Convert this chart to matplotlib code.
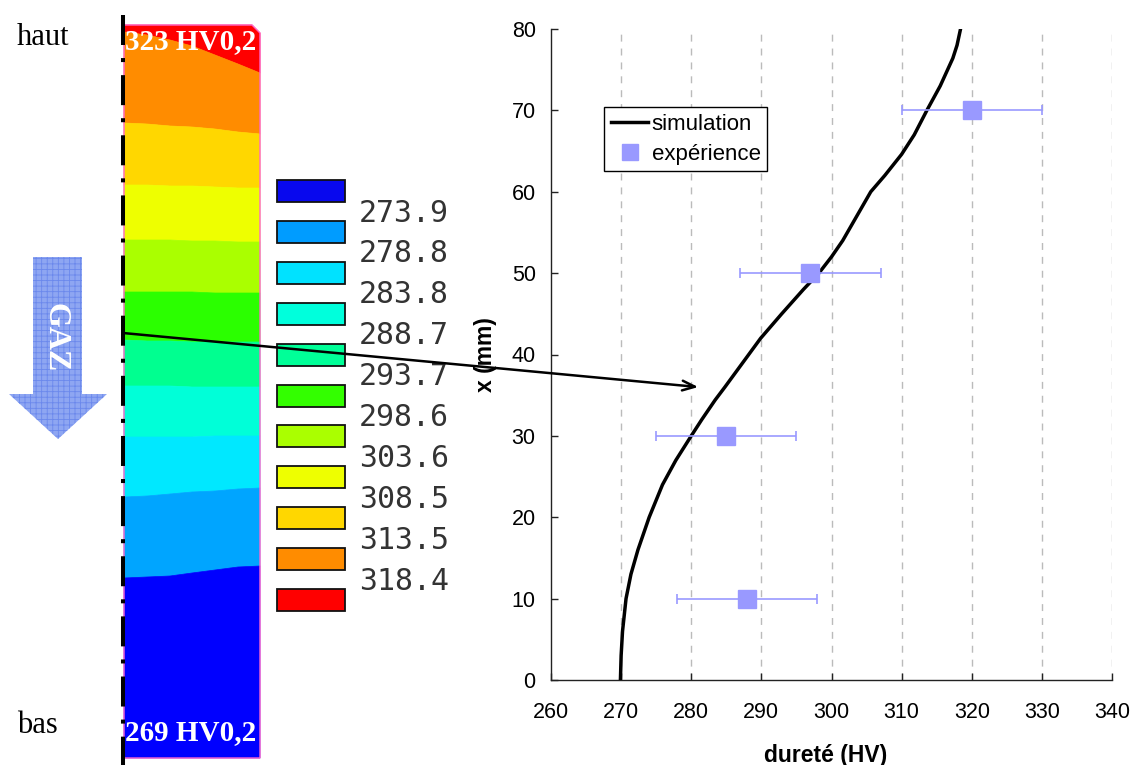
import matplotlib
matplotlib.use('Agg')
import matplotlib.pyplot as plt
from matplotlib.patches import Polygon
from matplotlib.lines import Line2D

plt.rcParams['lines.scale_dashes'] = False
plt.rcParams['hatch.linewidth'] = 0.6

# ---------------- data ----------------
sim_x_mm = [0, 3, 6, 10, 13, 16, 20, 24, 27, 30, 32, 34.4, 36, 38, 40, 42, 45, 48,
            50, 52, 54, 57, 60, 62, 64.6, 67, 70, 73, 76.4, 78, 80]
sim_hv = [269.9, 270.0, 270.2, 270.7, 271.4, 272.4, 274.0, 275.9, 277.8, 280.0,
          281.5, 283.4, 284.8, 286.5, 288.2, 289.9, 292.9, 296.0, 298.2, 300.0,
          301.6, 303.6, 305.6, 307.6, 310.0, 311.8, 313.6, 315.5, 317.3, 317.9, 318.4]
exp_x_mm = [10, 30, 50, 70]
exp_hv = [288, 285, 297, 320]
exp_err = [10, 10, 10, 10]

contour_levels = ['273.9', '278.8', '283.8', '288.7', '293.7', '298.6',
                  '303.6', '308.5', '313.5', '318.4']
legend_colors = ['#0808EE', '#009CFF', '#00E2FF', '#00FFDC', '#00FF98', '#33FF00',
                 '#AAFF00', '#EEFF00', '#FFD700', '#FF8C00', '#FF0000']
band_colors = ['#FF0000', '#FF8C00', '#FFD700', '#EEFF00', '#AAFF00', '#2BFF00',
               '#00FF90', '#00FFD8', '#00E8FF', '#00A5FF', '#0000FF']
top_label = '323 HV0,2'
bottom_label = '269 HV0,2'
xticks = [260, 270, 280, 290, 300, 310, 320, 330, 340]
yticks = [0, 10, 20, 30, 40, 50, 60, 70, 80]

# ---------------- figure ----------------
W_PX, H_PX = 1132, 765
fig = plt.figure(figsize=(W_PX / 100, H_PX / 100), dpi=100)
fig.patch.set_facecolor('white')

ax_l, ax_r, ax_t, ax_b = 551, 1112, 29, 680
ax = fig.add_axes([ax_l / W_PX, (H_PX - ax_b) / H_PX,
                   (ax_r - ax_l) / W_PX, (ax_b - ax_t) / H_PX])

sans = 'Liberation Sans'
ax.set_xlim(260, 340)
ax.set_ylim(0, 80)
ax.set_xticks(xticks)
ax.set_yticks(yticks)
for v in xticks[1:]:
    ax.axvline(v, color='#BBBBBB', lw=1.0, dashes=(5, 5), zorder=0)
ax.plot(sim_hv, sim_x_mm, color='black', lw=2.5, label='simulation', zorder=3)
ax.errorbar(exp_hv, exp_x_mm, xerr=exp_err, fmt='s', color='#9999FF',
            ecolor='#9999FF', elinewidth=1.2, capsize=3.8, capthick=1.2,
            markersize=12.5, label='expérience', zorder=4)
for s in ['top', 'right']:
    ax.spines[s].set_visible(False)
for s in ['left', 'bottom']:
    ax.spines[s].set_color('#222222')
    ax.spines[s].set_linewidth(1.0)
ax.tick_params(axis='both', direction='in', length=5, width=1, color='#222222',
               labelsize=15.5)
ax.tick_params(axis='x', pad=16)
ax.tick_params(axis='y', pad=11)
for lab in ax.get_xticklabels() + ax.get_yticklabels():
    lab.set_fontfamily(sans)
ax.set_xlabel('dureté (HV)', fontfamily=sans, fontsize=16.5, fontweight='bold')
ax.set_ylabel('x (mm)', fontfamily=sans, fontsize=16.5, fontweight='bold')
ax.xaxis.set_label_coords(0.49, -0.098)
ax.yaxis.set_label_coords(-0.096, 0.5)

h_line = Line2D([], [], color='black', lw=2.5)
h_mark = Line2D([], [], marker='s', color='#9999FF', ls='none', markersize=11)
leg = ax.legend([h_line, h_mark], ['simulation', 'expérience'], loc='upper left',
                bbox_to_anchor=(0.0945, 0.880), borderaxespad=0, fancybox=False,
                framealpha=1, edgecolor='black', prop={'family': sans, 'size': 16},
                handlelength=1.7, handletextpad=0.15, borderpad=0.3,
                labelspacing=0.4)
leg.get_frame().set_linewidth(1.0)

# ---------------- overlay (left illustration) in pixel coords ----------------
ov = fig.add_axes([0, 0, 1, 1], zorder=5)
ov.set_xlim(0, W_PX)
ov.set_ylim(H_PX, 0)
ov.axis('off')
ov.patch.set_alpha(0)

xs = [124, 147, 170, 192, 215, 238, 260]
bounds = [
    [32, 35, 40, 46, 55, 64, 73],
    [123, 124, 126, 127, 129, 132, 134],
    [185, 185, 186, 186, 187, 188, 188],
    [240, 240, 240, 241, 241, 242, 242],
    [292, 292, 292, 292, 293, 293, 293],
    [340, 341, 341, 342, 342, 342, 342],
    [386, 386, 386, 387, 387, 387, 387],
    [437, 437, 437, 437, 436, 436, 436],
    [497, 496, 494, 492, 491, 489, 488],
    [578, 577, 576, 573, 570, 567, 566],
]
top_edge = [(124, 25), (252, 25), (260, 33)]
bottom_y = 758

edges = [top_edge] + [list(zip(xs, b)) for b in bounds] + [[(124, bottom_y), (260, bottom_y)]]
for k, col in enumerate(band_colors):
    upper = edges[k]
    lower = edges[k + 1]
    poly = upper + lower[::-1]
    ov.add_patch(Polygon(poly, closed=True, facecolor=col, edgecolor=col, lw=0.5))
outline = top_edge + [(260, bottom_y), (124, bottom_y)]
ov.add_patch(Polygon(outline, closed=True, facecolor='none', edgecolor='#FF66CC', lw=1.0))

serif = 'Liberation Serif'
ov.text(125, 42, top_label, color='white', fontfamily=serif, fontsize=21,
        fontweight='bold', va='center', ha='left')
ov.text(125, 733, bottom_label, color='white', fontfamily=serif, fontsize=21,
        fontweight='bold', va='center', ha='left')
ov.text(17, 45, 'haut', fontfamily=serif, fontsize=22, va='baseline', ha='left')
ov.text(17, 733, 'bas', fontfamily=serif, fontsize=22, va='baseline', ha='left')

# dash-dot vertical line
ov.plot([122.5, 122.5], [15, 765], color='black', lw=2.9,
        dashes=(21.6, 9.4, 2.9, 9.4), solid_capstyle='butt')

# contour legend
box_x0, box_w, box_h = 277, 68, 22
box_top0, box_step = 180, 40.9
for i, col in enumerate(legend_colors):
    top = box_top0 + i * box_step
    ov.add_patch(Polygon([(box_x0, top), (box_x0 + box_w, top),
                          (box_x0 + box_w, top + box_h), (box_x0, top + box_h)],
                         closed=True, facecolor=col, edgecolor='#111111', lw=1.3))
for i, lab in enumerate(contour_levels):
    yc = box_top0 + i * box_step + 33
    ov.text(359, yc, lab, fontfamily='DejaVu Sans Mono', fontsize=21.5,
            color='#333333', va='center', ha='left')

# GAZ arrow
gaz = [(33, 257), (82, 257), (82, 394), (107, 394), (58, 439), (9, 394), (33, 394)]
ov.add_patch(Polygon(gaz, closed=True, facecolor='#8EA6F2', edgecolor='none', lw=0))
ov.add_patch(Polygon(gaz, closed=True, facecolor='none', edgecolor='#6B88EC',
                     lw=0, hatch='+++'))
ov.text(55, 338, 'GAZ', color='white', fontfamily=serif, fontsize=23,
        fontweight='bold', rotation=-90, ha='center', va='center')

# pointer arrow from strip to curve
ov.annotate('', xy=(281.0, 36.0), xycoords=ax.transData,
            xytext=(123, 333), textcoords='data',
            arrowprops=dict(arrowstyle='->,head_length=0.9,head_width=0.35',
                            color='black', lw=1.8, shrinkA=0, shrinkB=0))

fig.savefig('out.png', dpi=100)
